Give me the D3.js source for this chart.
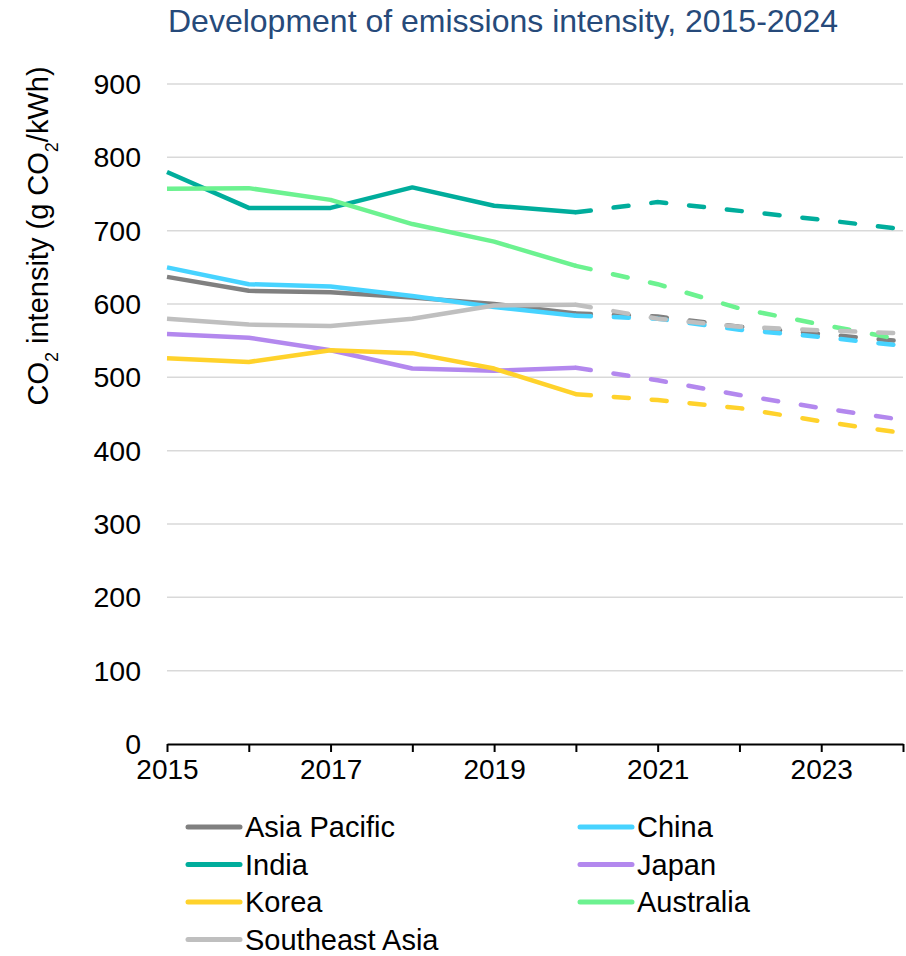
<!DOCTYPE html>
<meta charset="utf-8">
<script src="https://d3js.org/d3.v7.min.js"></script>
<style>
  body { margin: 0; background: #fff; }
  text { font-family: Arial, "Liberation Sans", sans-serif; }
</style>
<div id="my_dataviz"></div>
<script>

// data (2020 onwards drawn dashed)
var years = [2015, 2016, 2017, 2018, 2019, 2020, 2021, 2022, 2023, 2024];
var asiaPacific   = [637, 618, 616, 609, 600, 587, 583, 569, 559, 549];
var china         = [650, 627, 624, 611, 596, 584, 580, 565, 555, 543];
var india         = [780, 731, 731, 759, 734, 725, 739, 727, 715, 702];
var japan         = [559, 554, 537, 512, 509, 513, 496, 476, 458, 442];
var korea         = [526, 521, 537, 533, 512, 477, 469, 458, 440, 424];
var australia     = [757, 758, 742, 709, 685, 652, 627, 594, 572, 551];
var southeastAsia = [580, 572, 570, 580, 598, 599, 580, 569, 564, 560];
var forecastFrom = 2020;

var yTicks = [0, 100, 200, 300, 400, 500, 600, 700, 800, 900];
var xTicks = [2015, 2017, 2019, 2021, 2023];

var seriesNames  = ["Asia Pacific", "China", "India", "Japan", "Korea", "Australia", "Southeast Asia"];
var seriesValues = [asiaPacific, china, india, japan, korea, australia, southeastAsia];
var seriesColors = ["#808080", "#47d3ff", "#00ad9c", "#b388ee", "#ffd22b", "#6cf290", "#bfbfbf"];

var width = 906, height = 956;
var margin = {top: 84, right: 3, bottom: 212, left: 167};

var svg = d3.select("#my_dataviz")
  .append("svg")
    .attr("width", width)
    .attr("height", height);

var x = d3.scaleLinear()
  .domain([2015, 2024])
  .range([margin.left, width - margin.right]);

var y = d3.scaleLinear()
  .domain([0, 900])
  .range([height - margin.bottom, margin.top]);

// gridlines
svg.append("g")
  .selectAll("line")
  .data(yTicks.slice(1))
  .enter().append("line")
    .attr("x1", x(2015))
    .attr("x2", x(2024))
    .attr("y1", function(d) { return y(d); })
    .attr("y2", function(d) { return y(d); })
    .attr("stroke", "#d9d9d9")
    .attr("stroke-width", 1.5);

// y tick labels
svg.append("g")
  .selectAll("text")
  .data(yTicks)
  .enter().append("text")
    .attr("x", 141)
    .attr("y", function(d) { return y(d); })
    .attr("dy", "0.35em")
    .attr("text-anchor", "end")
    .style("font-size", "28.5px")
    .text(function(d) { return d; });

// x axis
var xAxis = svg.append("g")
  .attr("transform", "translate(0," + y(0) + ")")
  .call(d3.axisBottom(x).tickValues(years).tickSize(8).tickSizeOuter(0).tickFormat(function(d) {
    return xTicks.indexOf(d) >= 0 ? d : "";
  }));
xAxis.select(".domain").attr("stroke", "#000").attr("stroke-width", 2);
xAxis.selectAll(".tick line").attr("stroke", "#000").attr("stroke-width", 2);
xAxis.selectAll(".tick text")
  .attr("y", 15)
  .attr("dy", "0.71em")
  .style("font-family", "Arial, 'Liberation Sans', sans-serif")
  .style("font-size", "28px")
  .attr("fill", "#000");

// y axis title
var yTitle = svg.append("text")
  .attr("transform", "translate(48,236) rotate(-90)")
  .attr("text-anchor", "middle")
  .style("font-size", "29px");
yTitle.append("tspan").text("CO");
yTitle.append("tspan").attr("baseline-shift", "sub").style("font-size", "18px").text("2");
yTitle.append("tspan").text(" intensity (g CO");
yTitle.append("tspan").attr("baseline-shift", "sub").style("font-size", "18px").text("2");
yTitle.append("tspan").text("/kWh)");

// chart title
svg.append("text")
  .attr("x", 503)
  .attr("y", 32)
  .attr("text-anchor", "middle")
  .attr("fill", "#264a7a")
  .style("font-size", "32px")
  .text("Development of emissions intensity, 2015-2024");

// lines
var line = d3.line()
  .x(function(d) { return x(d[0]); })
  .y(function(d) { return y(d[1]); });

seriesValues.forEach(function(vals, i) {
  var pts = years.map(function(yr, j) { return [yr, vals[j]]; });
  var actual = pts.filter(function(p) { return p[0] <= forecastFrom; });
  var forecast = pts.filter(function(p) { return p[0] >= forecastFrom; });
  svg.append("path")
    .datum(forecast)
    .attr("d", line)
    .attr("fill", "none")
    .attr("stroke", seriesColors[i])
    .attr("stroke-width", 4.5)
    .attr("stroke-linecap", "round")
    .attr("stroke-dasharray", "15,23");
  svg.append("path")
    .datum(actual)
    .attr("d", line)
    .attr("fill", "none")
    .attr("stroke", seriesColors[i])
    .attr("stroke-width", 4.5)
    .attr("stroke-linejoin", "round");
});

// legend
var legend = svg.append("g")
  .selectAll("g")
  .data(seriesNames)
  .enter().append("g")
    .attr("transform", function(d, i) {
      var col = i % 2, row = Math.floor(i / 2);
      return "translate(" + (col === 0 ? 188 : 580) + "," + (827 + row * 37.5) + ")";
    });
legend.append("line")
  .attr("x1", 0)
  .attr("x2", 52)
  .attr("stroke", function(d, i) { return seriesColors[i]; })
  .attr("stroke-width", 5)
  .attr("stroke-linecap", "round");
legend.append("text")
  .attr("x", 57)
  .attr("dy", "0.35em")
  .style("font-size", "29px")
  .text(function(d) { return d; });

</script>
